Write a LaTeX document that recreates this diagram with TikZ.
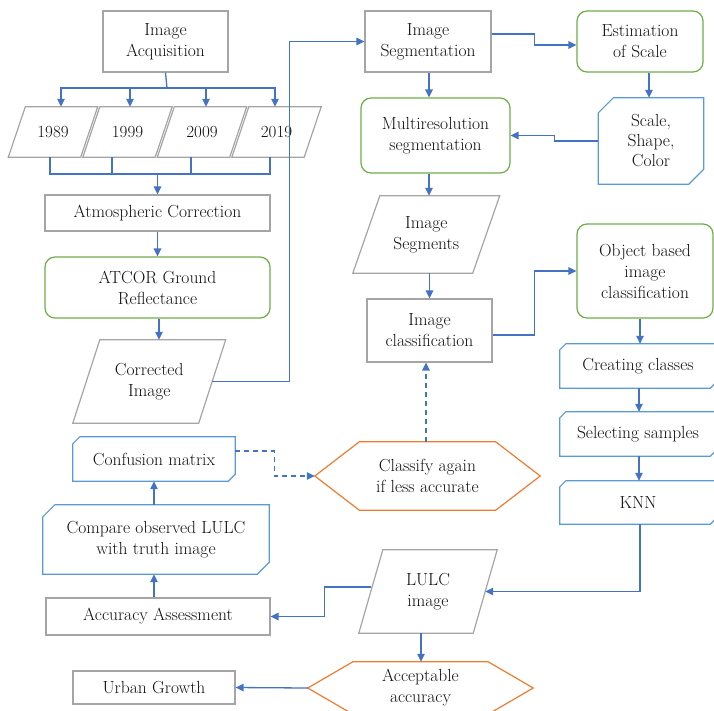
\documentclass[tikz,border=0pt]{standalone}
\usetikzlibrary{arrows.meta,calc}
\definecolor{cgray}{HTML}{A5A5A5}
\definecolor{cgreen}{HTML}{70AD47}
\definecolor{corange}{HTML}{ED7D31}
\definecolor{clblue}{HTML}{5B9BD5}
\definecolor{cblue}{HTML}{4472C4}
\definecolor{ctext}{HTML}{111111}
\tikzset{
  lbl/.style={text=ctext, font=\fontsize{17.5}{21}\selectfont, align=center, inner sep=0pt},
  yearlbl/.style={lbl, font=\fontsize{17}{20}\selectfont, minimum width=72pt, minimum height=50pt},
  graybox/.style={lbl, draw=cgray, line width=1.2pt, fill=white},
  greenbox/.style={lbl, draw=cgreen, line width=1.2pt, fill=white, rounded corners=10pt},
  grayln/.style={draw=cgray, line width=1.2pt},
  blueln/.style={draw=clblue, line width=1.2pt},
  orangeln/.style={draw=corange, line width=1.2pt},
  cline/.style={draw=cblue, line width=1.3pt},
  conn/.style={cline, -{Triangle[length=8pt,width=7.5pt]}},
  dashconn/.style={conn, dash pattern=on 5pt off 4pt},
}
\newcommand\paraoutline[2]{\draw[grayln] ([xshift=#2]#1.north west) -- ([xshift=#2]#1.north east) -- ([xshift=-#2]#1.south east) -- ([xshift=-#2]#1.south west) -- cycle;}
\newcommand\chamferoutline[2]{\draw[blueln] ([yshift=-#2]#1.north west) -- ([xshift=#2]#1.north west) -- (#1.north east) -- ([yshift=#2]#1.south east) -- ([xshift=-#2]#1.south east) -- (#1.south west) -- cycle;}
\newcommand\hexoutline[2]{\draw[orangeln] (#1.west) -- ([xshift=#2]#1.north west) -- ([xshift=-#2]#1.north east) -- (#1.east) -- ([xshift=-#2]#1.south east) -- ([xshift=#2]#1.south west) -- cycle;}
\begin{document}
\begin{tikzpicture}[x=1pt,y=-1pt]
\useasboundingbox (0,0) rectangle (714,710);
\fill[white] (0,0) rectangle (714,710);
\clip (0,0) rectangle (714,710);

% left column
\node[graybox, minimum width=125pt, minimum height=61pt] (acq) at (165.5,41.5) {Image\\Acquisition};
\node[yearlbl] (y1989) at (53,132) {1989};
\node[yearlbl] (y1999) at (127.5,132) {1999};
\node[yearlbl] (y2009) at (202,132) {2009};
\node[yearlbl] (y2019) at (276.5,132) {2019};
\paraoutline{y1989}{8.5}
\paraoutline{y1999}{8.5}
\paraoutline{y2009}{8.5}
\paraoutline{y2019}{8.5}
\node[graybox, minimum width=225pt, minimum height=36pt] (atm) at (157.5,213) {Atmospheric Correction};
\node[greenbox, minimum width=225pt, minimum height=61pt] (atcor) at (157.5,287.5) {ATCOR Ground\\Reflectance};
\node[lbl, minimum width=125.5pt, minimum height=83pt] (corr) at (149.25,381.5) {Corrected\\Image};
\paraoutline{corr}{13.5}

% middle column
\node[graybox, minimum width=126pt, minimum height=61pt] (seg) at (428,41.5) {Image\\Segmentation};
\node[greenbox, minimum width=149pt, minimum height=75pt] (multi) at (435.5,135.5) {Multiresolution\\segmentation};
\node[lbl, minimum width=119.5pt, minimum height=77pt] (segs) at (426.25,234.5) {Image\\Segments};
\paraoutline{segs}{13.5}
\node[graybox, minimum width=125pt, minimum height=63pt] (cls) at (429.5,330.5) {Image\\classification};

% right column
\node[greenbox, minimum width=126pt, minimum height=61pt] (est) at (640,41.5) {Estimation\\of Scale};
\node[lbl, minimum width=105pt, minimum height=86pt, font=\fontsize{17.5}{20}\selectfont] (ssc) at (651,141) {Scale,\\Shape,\\Color};
\chamferoutline{ssc}{15}
\node[greenbox, minimum width=136pt, minimum height=94pt] (obj) at (645,271) {Object based\\image\\classification};
\node[lbl, minimum width=156pt, minimum height=44pt] (cc) at (638,366) {Creating classes};
\chamferoutline{cc}{6}
\node[lbl, minimum width=156pt, minimum height=44pt] (ss) at (638,434) {Selecting samples};
\chamferoutline{ss}{6}
\node[lbl, minimum width=156pt, minimum height=43pt] (knn) at (638,502.5) {KNN};
\chamferoutline{knn}{6}

% lower part
\node[lbl, minimum width=162pt, minimum height=44pt] (conf) at (154,459) {Confusion matrix};
\chamferoutline{conf}{7}
\node[lbl, minimum width=226pt, minimum height=69pt] (cmp) at (156,539.5) {Compare observed LULC\\with truth image};
\chamferoutline{cmp}{12}
\node[graybox, minimum width=224pt, minimum height=37pt] (aa) at (158,616.5) {Accuracy Assessment};
\node[graybox, minimum width=162pt, minimum height=33pt] (ug) at (154,687.5) {Urban Growth};
\node[lbl, minimum width=225pt, minimum height=68pt] (cl2) at (427.5,476) {Classify again\\if less accurate};
\hexoutline{cl2}{44.5}
\node[lbl, minimum width=114pt, minimum height=83pt] (lulc) at (428,591.5) {LULC\\image};
\paraoutline{lulc}{12}
\node[lbl, minimum width=225pt, minimum height=52pt] (acc) at (420.5,688) {Acceptable\\accuracy};
\hexoutline{acc}{45}

% connectors: acquisition to years
\coordinate (split) at (167,88);
\draw[cline] (acq.south) -- (split);
\draw[conn] (split) -| ([xshift=8]y1989.north);
\draw[conn] (split) -| ([xshift=2.5]y1999.north);
\draw[conn] (split) -| ([xshift=4]y2009.north);
\draw[conn] (split) -| ([xshift=-1.5]y2019.north);
% years to atmospheric correction
\coordinate (merge) at (157.5,174);
\draw[cline] ([xshift=-3]y1989.south) |- (merge);
\draw[cline] ([xshift=-15.5]y1999.south) |- (merge);
\draw[cline] ([xshift=-11]y2009.south) |- (merge);
\draw[cline] ([xshift=-6.5]y2019.south) |- (merge);
\draw[conn] (merge) -- (atm.north);
\draw[conn] (atm.south) -- (atcor.north);
\draw[conn] ([xshift=1.5]atcor.south) -- ([xshift=1.5]atcor.south |- corr.north);
\draw[conn] (corr.east) -- ++(77,0) |- (seg.west);

\draw[conn] ([yshift=7.5]seg.east) -- ++(43,0) |- ([yshift=-3.5]est.west);
\draw[conn] ([xshift=9]est.south) -- ([xshift=9]est.south |- ssc.north);
\draw[conn] (ssc.west) -- ++(-44,0) |- (multi.east);
\draw[conn] ([xshift=1]seg.south) -- ([xshift=1]seg.south |- multi.north);
\draw[conn] ([xshift=-6.5]multi.south) -- ([xshift=-6.5]multi.south |- segs.north);
\draw[conn] (segs.south -| cls.north) -- (cls.north);
\draw[conn] ([yshift=-4.5]cls.east) -- ++(42,0) |- (obj.west);
\draw[conn] ([xshift=-5]obj.south) -- ([xshift=-5]obj.south |- cc.north);
\draw[conn] ([xshift=1]cc.south) -- ([xshift=1]ss.north);
\draw[conn] ([xshift=1]ss.south) -- ([xshift=1]knn.north);
\draw[conn] ([xshift=2]knn.south) |- (lulc.east);
\draw[conn] ([yshift=4.5]lulc.west) -- ++(-46,0) |- (aa.east);
\draw[conn] ([xshift=-7]lulc.south) -- ([xshift=-7]lulc.south |- acc.north);
\draw[conn] (acc.west) -- (ug.east);
\draw[conn] ([xshift=-4]aa.north) -- ([xshift=-4]aa.north |- cmp.south);
\draw[conn] ([xshift=-2]cmp.north) -- ([xshift=-2]cmp.north |- conf.south);
\draw[dashconn] ([yshift=8]conf.east) -- ++(39,0) |- (cl2.west);
\draw[dashconn] ([xshift=-1.5]cl2.north) -- ([xshift=-1.5]cl2.north |- cls.south);
\end{tikzpicture}
\end{document}
